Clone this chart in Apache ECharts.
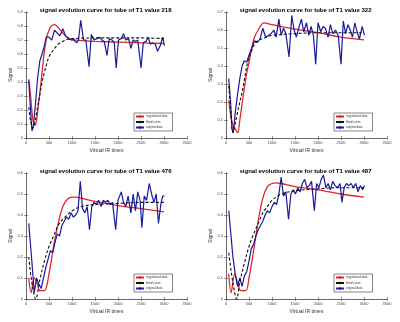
<!DOCTYPE html>
<html>
<head>
<meta charset="utf-8">
<script src="https://cdn.jsdelivr.net/npm/echarts@6/dist/echarts.min.js"></script>
<style>
  html, body { margin: 0; padding: 0; background: #fff; }
  #chart { width: 400px; height: 322px; }
</style>
</head>
<body>
<div id="chart"></div>
<script>
// tube T1 values shown in the four titles
const t1Values = [218, 322, 476, 487];
const yMaxes = [0.9, 0.7, 0.6, 0.6];
const xTicks = [0, 500, 1000, 1500, 2000, 2500, 3000, 3500];
const legendNames = ["regularized data", "fitted curve", "original data"];

// T1 = 218
const regular218 = [[60,0.42],[100,0.30],[150,0.13],[200,0.09],[250,0.18],[300,0.32],[350,0.47],[400,0.62],[450,0.72],[500,0.77],[550,0.80],[620,0.81],[700,0.79],[800,0.75],[900,0.72],[1000,0.705],[1200,0.695],[1500,0.69],[2000,0.685],[2500,0.68],[3000,0.675]];
const fitted218 = [[60,0.22],[100,0.12],[150,0.07],[200,0.12],[250,0.22],[300,0.31],[350,0.40],[400,0.47],[450,0.53],[500,0.58],[600,0.63],[700,0.67],[800,0.69],[900,0.705],[1000,0.71],[1500,0.715],[2000,0.715],[2500,0.715],[3000,0.71]];
const original218 = [[60,0.41],[100,0.19],[130,0.05],[160,0.09],[200,0.22],[250,0.42],[300,0.55],[350,0.60],[400,0.66],[440,0.72],[500,0.72],[560,0.70],[620,0.77],[680,0.75],[740,0.73],[800,0.78],[860,0.73],[920,0.71],[980,0.70],[1040,0.70],[1100,0.68],[1140,0.70],[1190,0.84],[1250,0.70],[1300,0.70],[1370,0.51],[1420,0.74],[1480,0.70],[1540,0.71],[1600,0.72],[1650,0.70],[1700,0.69],[1760,0.59],[1810,0.71],[1870,0.70],[1920,0.68],[1960,0.50],[2010,0.70],[2070,0.71],[2120,0.745],[2170,0.70],[2230,0.71],[2280,0.64],[2330,0.70],[2380,0.69],[2430,0.70],[2500,0.50],[2550,0.68],[2610,0.69],[2660,0.72],[2700,0.67],[2750,0.68],[2810,0.67],[2860,0.62],[2920,0.66],[2970,0.72],[3010,0.66]];

// T1 = 322
const regular322 = [[60,0.21],[100,0.13],[150,0.07],[200,0.05],[255,0.03],[300,0.10],[350,0.19],[400,0.28],[450,0.36],[500,0.42],[560,0.50],[620,0.56],[700,0.60],[825,0.64],[1000,0.63],[1500,0.605],[2000,0.585],[2500,0.56],[3000,0.545]];
const fitted322 = [[60,0.29],[100,0.16],[150,0.03],[200,0.08],[250,0.14],[300,0.20],[370,0.28],[430,0.37],[480,0.43],[550,0.48],[660,0.535],[880,0.56],[1000,0.57],[1500,0.58],[2000,0.585],[2500,0.585],[3000,0.585]];
const original322 = [[60,0.33],[100,0.20],[130,0.05],[160,0.03],[200,0.14],[250,0.24],[300,0.33],[350,0.40],[400,0.43],[450,0.42],[500,0.46],[560,0.50],[620,0.54],[680,0.53],[740,0.55],[800,0.61],[860,0.56],[920,0.57],[980,0.58],[1040,0.60],[1090,0.56],[1150,0.66],[1200,0.57],[1250,0.61],[1300,0.58],[1370,0.45],[1430,0.68],[1480,0.60],[1530,0.56],[1590,0.62],[1640,0.66],[1690,0.59],[1750,0.64],[1800,0.57],[1850,0.62],[1900,0.57],[1950,0.41],[2000,0.64],[2060,0.59],[2110,0.62],[2160,0.61],[2220,0.56],[2270,0.63],[2320,0.58],[2380,0.60],[2440,0.57],[2500,0.41],[2550,0.65],[2600,0.58],[2650,0.63],[2700,0.60],[2750,0.56],[2800,0.64],[2850,0.59],[2900,0.55],[2960,0.62],[3010,0.57]];

// T1 = 476
const regular476 = [[60,0.10],[110,0.03],[180,0.10],[250,0.07],[300,0.04],[400,0.04],[500,0.12],[600,0.25],[700,0.36],[800,0.44],[900,0.475],[1000,0.485],[1100,0.485],[1200,0.48],[1500,0.465],[2000,0.445],[2500,0.43],[3000,0.415]];
const fitted476 = [[60,0.20],[100,0.12],[150,0.05],[210,0.00],[300,0.09],[400,0.18],[500,0.25],[600,0.30],[700,0.35],[800,0.38],[900,0.40],[1000,0.42],[1200,0.44],[1500,0.45],[2000,0.455],[2500,0.46],[3000,0.46]];
const original476 = [[60,0.36],[120,0.20],[180,0.03],[230,0.10],[280,0.07],[330,0.05],[380,0.10],[430,0.15],[480,0.19],[530,0.23],[580,0.22],[630,0.27],[680,0.31],[730,0.30],[780,0.35],[830,0.37],[880,0.39],[930,0.38],[980,0.41],[1030,0.39],[1080,0.40],[1130,0.42],[1180,0.56],[1230,0.43],[1280,0.41],[1330,0.44],[1380,0.33],[1430,0.44],[1480,0.46],[1530,0.45],[1580,0.47],[1630,0.44],[1680,0.47],[1730,0.46],[1780,0.47],[1830,0.45],[1880,0.46],[1950,0.33],[2000,0.47],[2070,0.51],[2120,0.46],[2170,0.44],[2220,0.49],[2280,0.41],[2330,0.50],[2380,0.42],[2430,0.51],[2480,0.47],[2520,0.34],[2570,0.49],[2620,0.47],[2680,0.55],[2730,0.50],[2780,0.46],[2830,0.50],[2880,0.36],[2930,0.45],[2970,0.49],[3010,0.49]];

// T1 = 487
const regular487 = [[60,0.12],[110,0.03],[190,0.12],[260,0.07],[320,0.04],[430,0.04],[500,0.10],[600,0.23],[700,0.37],[800,0.48],[900,0.535],[1000,0.55],[1100,0.553],[1200,0.55],[1500,0.535],[2000,0.52],[2500,0.50],[3000,0.485]];
const fitted487 = [[60,0.22],[120,0.12],[180,0.04],[230,0.00],[300,0.08],[400,0.17],[500,0.25],[600,0.31],[700,0.36],[800,0.41],[900,0.44],[1000,0.47],[1200,0.50],[1500,0.515],[2000,0.525],[2500,0.53],[3000,0.53]];
const original487 = [[60,0.42],[110,0.30],[150,0.20],[200,0.12],[250,0.06],[300,0.10],[350,0.06],[400,0.11],[450,0.13],[500,0.18],[550,0.24],[600,0.26],[650,0.30],[700,0.33],[750,0.35],[800,0.37],[850,0.40],[900,0.42],[950,0.41],[1000,0.44],[1050,0.46],[1100,0.45],[1150,0.50],[1200,0.58],[1250,0.49],[1300,0.51],[1360,0.38],[1410,0.50],[1460,0.52],[1510,0.50],[1560,0.53],[1610,0.51],[1660,0.55],[1710,0.57],[1760,0.53],[1810,0.54],[1860,0.56],[1920,0.42],[1970,0.55],[2020,0.53],[2070,0.57],[2120,0.59],[2170,0.53],[2220,0.55],[2270,0.52],[2320,0.56],[2370,0.54],[2420,0.53],[2480,0.55],[2520,0.46],[2570,0.53],[2620,0.55],[2670,0.54],[2720,0.55],[2770,0.53],[2820,0.55],[2870,0.51],[2920,0.54],[2970,0.52],[3010,0.54]];

const regularList = [regular218, regular322, regular476, regular487];
const fittedList = [fitted218, fitted322, fitted476, fitted487];
const originalList = [original218, original322, original476, original487];

// panel boxes in pixels
const panels = [
  { left: 26, top: 12 },
  { left: 226, top: 12 },
  { left: 26, top: 173 },
  { left: 226, top: 173 },
];
const panelW = 161, panelH = 126;

let myEchart = echarts.init(document.getElementById("chart"));

let grid = [], xAxis = [], yAxis = [], series = [], title = [], legend = [];
let axisColor = "#4d4d4d";

panels.forEach((p, i) => {
  grid.push({ left: p.left, top: p.top, width: panelW, height: panelH });

  title.push({
    text: "signal evolution curve for tube of T1 value " + t1Values[i],
    left: p.left + panelW / 2 - 6,
    top: p.top - 10,
    textAlign: "center",
    textStyle: { fontSize: 6, fontWeight: "bold", color: "#000", fontFamily: "Liberation Sans" },
  });

  // bottom / left axes with labels
  xAxis.push({
    type: "value", gridIndex: i, min: 0, max: 3500, interval: 500,
    name: "Virtual IR times", nameLocation: "middle", nameGap: 10,
    nameTextStyle: { fontSize: 5, color: "#333", fontFamily: "Liberation Sans" },
    axisLine: { show: true, lineStyle: { color: axisColor, width: 0.6 } },
    axisTick: { show: true, inside: true, length: 2, lineStyle: { color: axisColor, width: 0.6 } },
    axisLabel: { fontSize: 4, color: "#444", margin: 3, fontFamily: "Liberation Sans",
      formatter: (v) => String(v) },
    splitLine: { show: false },
  });
  yAxis.push({
    type: "value", gridIndex: i, min: 0, max: yMaxes[i], interval: 0.1,
    name: "Signal", nameLocation: "middle", nameGap: 13, nameRotate: 90,
    nameTextStyle: { fontSize: 5, color: "#333", fontFamily: "Liberation Sans" },
    axisLine: { show: true, lineStyle: { color: axisColor, width: 0.6 } },
    axisTick: { show: true, inside: true, length: 2, lineStyle: { color: axisColor, width: 0.6 } },
    axisLabel: { fontSize: 4, color: "#444", margin: 3, fontFamily: "Liberation Sans",
      formatter: (v) => (v === 0 ? "0" : v.toFixed(1)) },
    splitLine: { show: false },
  });
  // top / right box edges (MATLAB box on)
  xAxis.push({
    type: "value", gridIndex: i, min: 0, max: 3500, interval: 500, position: "top",
    axisLine: { show: true, lineStyle: { color: axisColor, width: 0.6 } },
    axisTick: { show: true, inside: true, length: 2, lineStyle: { color: axisColor, width: 0.6 } },
    axisLabel: { show: false }, splitLine: { show: false },
  });
  yAxis.push({
    type: "value", gridIndex: i, min: 0, max: yMaxes[i], interval: 0.1, position: "right",
    axisLine: { show: true, lineStyle: { color: axisColor, width: 0.6 } },
    axisTick: { show: true, inside: true, length: 2, lineStyle: { color: axisColor, width: 0.6 } },
    axisLabel: { show: false }, splitLine: { show: false },
  });

  series.push({
    name: legendNames[0], type: "line", xAxisIndex: i * 2, yAxisIndex: i * 2,
    data: regularList[i], smooth: 0.35, symbol: "none",
    lineStyle: { color: "#e0262b", width: 1.3 }, itemStyle: { color: "#e0262b" },
    z: 2,
  });
  series.push({
    name: legendNames[1], type: "line", xAxisIndex: i * 2, yAxisIndex: i * 2,
    data: fittedList[i], smooth: 0.35, symbol: "none",
    lineStyle: { color: "#111", width: 1.1, type: [3, 2] }, itemStyle: { color: "#111" },
    z: 4,
  });
  series.push({
    name: legendNames[2], type: "line", xAxisIndex: i * 2, yAxisIndex: i * 2,
    data: originalList[i], symbol: "none",
    lineStyle: { color: "#1a1a9c", width: 1.2 }, itemStyle: { color: "#1a1a9c" },
    z: 3,
  });

  legend.push({
    data: legendNames, orient: "vertical",
    left: p.left + panelW - 53, top: p.top + panelH - 25,
    itemWidth: 8, itemHeight: 3, itemGap: 2.5,
    padding: [2, 5, 2, 1],
    backgroundColor: "#fff", borderColor: "#333", borderWidth: 0.6, borderRadius: 0,
    textStyle: { fontSize: 3, color: "#333", padding: [0, 0, 0, -3], fontFamily: "Liberation Sans" },
  });
});

let options = {
  animation: false,
  backgroundColor: "#fff",
  title: title,
  legend: legend,
  grid: grid,
  xAxis: xAxis,
  yAxis: yAxis,
  series: series,
};
myEchart.setOption(options);
</script>
</body>
</html>
